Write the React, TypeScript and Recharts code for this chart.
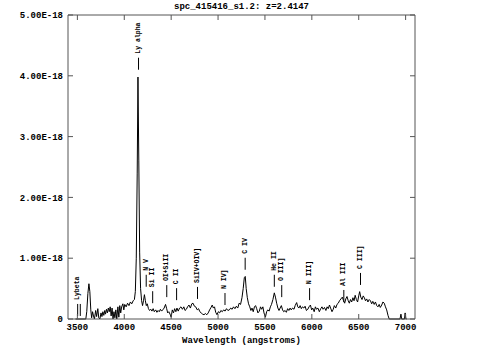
import React from 'react';
import { ComposedChart, Line, Scatter, XAxis, YAxis } from 'recharts';

// spectrum, flux in units of 1E-18
const WAVELENGTH = [
  3480, 3590, 3600, 3612, 3623, 3633, 3643, 3652, 3662, 3672, 3682, 3695, 3705, 3718, 3728, 3740,
  3752, 3762, 3772, 3782, 3792, 3800, 3810, 3820, 3830, 3840, 3850, 3860, 3870, 3880, 3890, 3900,
  3910, 3920, 3932, 3942, 3952, 3962, 3972, 3985, 3995, 4005, 4020, 4035, 4050, 4065, 4080, 4095,
  4108, 4118, 4128, 4138, 4146, 4155, 4164, 4174, 4185, 4195, 4205, 4215, 4225, 4235, 4245, 4258,
  4270, 4283, 4295, 4308, 4320, 4335, 4348, 4360, 4373, 4385, 4398, 4410, 4425, 4440, 4452, 4463,
  4475, 4488, 4500, 4512, 4525, 4537, 4550, 4562, 4575, 4590, 4605, 4620, 4635, 4648, 4662, 4675,
  4690, 4705, 4720, 4733, 4748, 4762, 4778, 4792, 4806, 4820, 4835, 4850, 4865, 4880, 4895, 4910,
  4925, 4938, 4950, 4962, 4975, 4989, 5003, 5017, 5030, 5045, 5060, 5075, 5090, 5105, 5120, 5135,
  5150, 5165, 5180, 5195, 5210, 5225, 5240, 5255, 5268, 5280, 5290, 5300, 5312, 5325, 5338, 5350,
  5362, 5375, 5388, 5400, 5412, 5425, 5440, 5453, 5465, 5478, 5490, 5505, 5518, 5530, 5545, 5558,
  5570, 5585, 5600, 5612, 5625, 5638, 5650, 5662, 5675, 5688, 5700, 5715, 5728, 5742, 5755, 5768,
  5780, 5795, 5810, 5822, 5838, 5850, 5862, 5875, 5888, 5900, 5915, 5928, 5942, 5957, 5970, 5985,
  5998, 6010, 6025, 6038, 6050, 6065, 6080, 6095, 6108, 6120, 6135, 6150, 6163, 6175, 6188, 6200,
  6215, 6228, 6240, 6255, 6268, 6282, 6295, 6310, 6325, 6338, 6350, 6362, 6375, 6388, 6400, 6412,
  6425, 6438, 6450, 6462, 6475, 6488, 6500, 6510, 6522, 6535, 6548, 6560, 6572, 6585, 6598, 6612,
  6625, 6638, 6650, 6665, 6678, 6692, 6705, 6718, 6730, 6745, 6758, 6772, 6785, 6798, 6812, 6825,
  6940, 6950, 6958, 6988, 6995, 7003, 7010,
];
const FLUX = [
  0, 0, 0.12, 0.42, 0.58, 0.45, 0.15, 0.02, 0.12, 0.05, 0, 0.14, 0.04, 0.17, 0.02, 0,
  0.1, 0.04, 0.12, 0.06, 0.14, 0.08, 0.16, 0.1, 0.18, 0.12, 0.2, 0.05, 0.18, 0, 0.12, 0.02,
  0.15, 0, 0.2, 0.03, 0.22, 0.1, 0.2, 0.25, 0.15, 0.24, 0.2, 0.26, 0.22, 0.28, 0.25, 0.3,
  0.32, 0.45, 1.0, 2.4, 3.98, 2.6, 1.1, 0.5, 0.3, 0.22, 0.3, 0.4, 0.3, 0.22, 0.25, 0.17,
  0.14, 0.16, 0.13, 0.17, 0.12, 0.15, 0.11, 0.14, 0.12, 0.16, 0.13, 0.15, 0.18, 0.24, 0.17, 0.1,
  0.12, 0.08, 0.03, 0.15, 0.1, 0.17, 0.12, 0.18, 0.13, 0.18, 0.2, 0.16, 0.2, 0.14, 0.16, 0.2,
  0.23, 0.18, 0.25, 0.26, 0.21, 0.2, 0.15, 0.17, 0.12, 0.1, 0.08, 0.07, 0.09, 0.07, 0.1, 0.15,
  0.19, 0.23, 0.18, 0.2, 0.11, 0.07, 0.12, 0.1, 0.14, 0.12, 0.15, 0.13, 0.17, 0.14, 0.15, 0.18,
  0.16, 0.2, 0.17, 0.21, 0.18, 0.26, 0.24, 0.35, 0.5, 0.68, 0.7, 0.5, 0.35, 0.25, 0.2, 0.14,
  0.18, 0.12, 0.2, 0.22, 0.17, 0.1, 0.13, 0.2, 0.16, 0.2, 0.1, 0.03, 0.12, 0.15, 0.13, 0.2,
  0.24, 0.32, 0.43, 0.36, 0.26, 0.18, 0.14, 0.18, 0.22, 0.15, 0.12, 0.14, 0.11, 0.17, 0.14, 0.18,
  0.15, 0.18, 0.16, 0.22, 0.27, 0.2, 0.18, 0.22, 0.17, 0.2, 0.18, 0.21, 0.14, 0.16, 0.2, 0.23,
  0.15, 0.18, 0.12, 0.2, 0.16, 0.18, 0.12, 0.17, 0.2, 0.16, 0.19, 0.14, 0.2, 0.17, 0.23, 0.18,
  0.12, 0.16, 0.22, 0.18, 0.24, 0.26, 0.3, 0.33, 0.36, 0.3, 0.26, 0.33, 0.37, 0.3, 0.26, 0.32,
  0.28, 0.35, 0.3, 0.39, 0.32, 0.28, 0.38, 0.45, 0.36, 0.32, 0.38, 0.35, 0.3, 0.33, 0.28, 0.32,
  0.3, 0.25, 0.29, 0.24, 0.28, 0.22, 0.2, 0.24, 0.19, 0.23, 0.28, 0.26, 0.2, 0.15, 0.06, 0,
  0, 0.08, 0, 0, 0.1, 0, 0,
];

// emission line identifications: rest lines at z=2.4147
const LINE_NAMES = ['Lybeta', '', 'Ly alpha', 'N V', 'Si II', 'OI+SiII', 'C II', 'SiIV+OIV]', 'N IV]', 'C IV', 'He II', 'O III]', 'N III]', 'Al III', 'C III]'];
const LINE_WAVES = [3503, 3531, 4152, 4234, 4303, 4453, 4558, 4781, 5074, 5289, 5600, 5679, 5976, 6341, 6519];
const LINE_LEVELS = [0.05, 0.05, 4.1, 0.53, 0.26, 0.36, 0.31, 0.33, 0.23, 0.81, 0.53, 0.36, 0.31, 0.28, 0.56];

const X_TICKS = [3500, 4000, 4500, 5000, 5500, 6000, 6500, 7000];
const Y_TICKS = [0, 1, 2, 3, 4, 5];

const spectrum = WAVELENGTH.map((wl, i) => ({ wl, flux: FLUX[i] }));
const lineIds = LINE_WAVES.map((wl, i) => ({ wl, level: LINE_LEVELS[i], name: LINE_NAMES[i] }));

const FONT = '"Liberation Mono", monospace';
const FRAME = '#555';
const TICK = 5;

const fmtY = (v: number) => (v === 0 ? '0' : `${v.toFixed(2)}E-18`);

const BottomTick = (p: any) => (
  <g>
    <line x1={p.x} y1={p.y - 4} x2={p.x} y2={p.y - 4 - TICK} stroke={FRAME} />
    <text x={p.x} y={p.y} dy="0.75em" textAnchor="middle" fontFamily={FONT} fontWeight="bold" fontSize={9} fill="#000">
      {p.payload.value}
    </text>
  </g>
);

const LeftTick = (p: any) => (
  <g>
    <line x1={p.x + 5} y1={p.y} x2={p.x + 5 + TICK} y2={p.y} stroke={FRAME} />
    <text x={p.x} y={p.y} dy="0.35em" textAnchor="end" fontFamily={FONT} fontWeight="bold" fontSize={9} fill="#000">
      {fmtY(p.payload.value)}
    </text>
  </g>
);

const TopTick = (p: any) => <line x1={p.x} y1={p.y} x2={p.x} y2={p.y + TICK} stroke={FRAME} />;
const RightTick = (p: any) => <line x1={p.x} y1={p.y} x2={p.x - TICK} y2={p.y} stroke={FRAME} />;

const MARK = 12;
const LineMark = (p: any) => {
  const { cx, cy, payload } = p;
  if (cx == null || cy == null) return <g />;
  return (
    <g>
      <line x1={cx} y1={cy} x2={cx} y2={cy - MARK} stroke="#000" />
      {payload.name ? (
        <text
          transform={`translate(${cx},${cy - MARK - 4}) rotate(-90)`}
          textAnchor="start"
          dominantBaseline="central"
          fontFamily={FONT}
          fontWeight="bold"
          fontSize={6.5}
          fill="#000"
        >
          {payload.name}
        </text>
      ) : null}
    </g>
  );
};

export default function App() {
  return (
    <div style={{ position: 'absolute', left: 0, top: 0, width: 483, height: 358, background: '#fff' }}>
      <div
        style={{
          position: 'absolute', left: 0, top: 2, width: 483, textAlign: 'center',
          fontFamily: FONT, fontWeight: 'bold', fontSize: 9, lineHeight: '10px',
        }}
      >
        spc_415416_s1.2: z=2.4147
      </div>
      <ComposedChart width={483} height={358} margin={{ top: 14, right: 67, bottom: 0, left: 0 }}>
        <XAxis
          xAxisId="main"
          dataKey="wl"
          type="number"
          domain={[3400, 7100]}
          ticks={X_TICKS}
          interval={0}
          height={39}
          tickSize={0}
          tickMargin={4}
          tick={BottomTick}
          axisLine={{ stroke: FRAME }}
          label={{ value: 'Wavelength (angstroms)', position: 'insideBottom', offset: 15, fontFamily: FONT, fontWeight: 'bold', fontSize: 9, fill: '#000' }}
        />
        <XAxis
          xAxisId="top"
          dataKey="wl"
          orientation="top"
          type="number"
          domain={[3400, 7100]}
          ticks={X_TICKS}
          interval={0}
          height={1}
          tickSize={0}
          tickMargin={0}
          tick={TopTick}
          axisLine={{ stroke: FRAME }}
        />
        <YAxis
          yAxisId="main"
          type="number"
          domain={[0, 5]}
          ticks={Y_TICKS}
          interval={0}
          width={68}
          tickSize={0}
          tickMargin={5}
          tick={LeftTick}
          axisLine={{ stroke: FRAME }}
        />
        <YAxis
          yAxisId="right"
          orientation="right"
          type="number"
          domain={[0, 5]}
          ticks={Y_TICKS}
          interval={0}
          width={1}
          tickSize={0}
          tickMargin={0}
          tick={RightTick}
          axisLine={{ stroke: FRAME }}
        />
        {/* invisible twin so the top/right frame axes get drawn */}
        <Line
          xAxisId="top"
          yAxisId="right"
          data={spectrum}
          dataKey="flux"
          stroke="none"
          dot={false}
          activeDot={false}
          isAnimationActive={false}
        />
        <Line
          xAxisId="main"
          yAxisId="main"
          data={spectrum}
          dataKey="flux"
          type="linear"
          stroke="#000"
          strokeWidth={1}
          dot={false}
          isAnimationActive={false}
        />
        <Scatter
          xAxisId="main"
          yAxisId="main"
          data={lineIds}
          dataKey="level"
          shape={LineMark}
          isAnimationActive={false}
        />
      </ComposedChart>
    </div>
  );
}
